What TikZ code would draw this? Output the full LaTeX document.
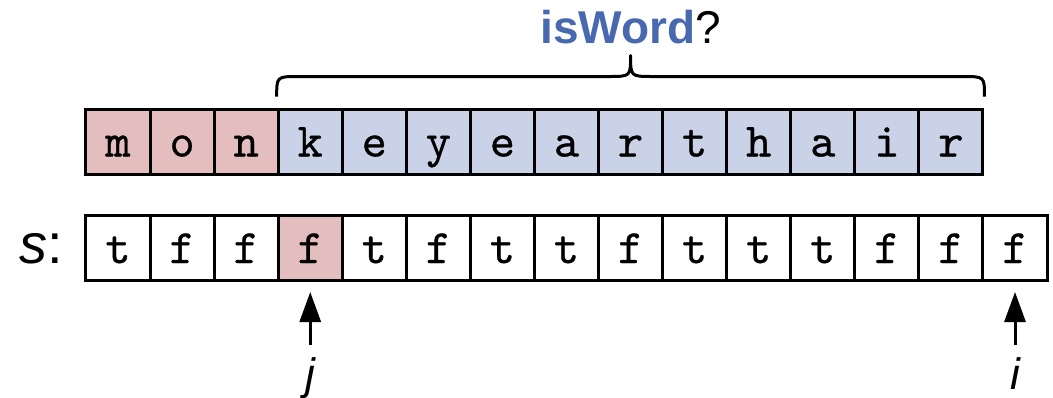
\documentclass[tikz,border=0pt]{standalone}
\usepackage{fontspec}
\setmainfont{Liberation Sans}
\newfontfamily\cellfont{lmmono10-regular.otf}[FakeBold=0.6]
\usetikzlibrary{arrows.meta,calc}
\definecolor{cellred}{RGB}{228,189,191}
\definecolor{cellblue}{RGB}{201,210,230}
\definecolor{wordblue}{RGB}{72,104,176}
\begin{document}
\begin{tikzpicture}[x=1pt,y=-1pt,
  cell/.style={draw, line width=3pt, minimum width=64.07pt, minimum height=65pt,
    inner sep=0pt, font=\cellfont\fontsize{48}{48}\selectfont,
    text height=30pt, text depth=0pt},
  lab/.style={inner sep=0pt, font=\fontsize{44}{44}\selectfont\itshape},
  ptr/.style={line width=3pt, -{Triangle[length=30pt,width=21pt]}},
  bracestyle/.style={line width=3pt, line join=round}]
\useasboundingbox (0,0) rectangle (1053,397);
% top row
\foreach \c [count=\k from 0] in {m,o,n,k,e,y,e,a,r,t,h,a,i,r}{
  \ifnum\k<3 \def\fc{cellred}\else\def\fc{cellblue}\fi
  \node[cell, fill=\fc] (t\k) at ({118.03+64.07*\k},141.5) {\c};
}
% bottom row
\foreach \c [count=\k from 0] in {t,f,f,f,t,f,t,t,f,t,t,t,f,f,f}{
  \ifnum\k=3 \def\fc{cellred}\else\def\fc{white}\fi
  \node[cell, fill=\fc] (b\k) at ({118.03+64.07*\k},248) {\c};
}
% s label
\node[anchor=base east, inner sep=0pt, font=\fontsize{56}{56}\selectfont] (sl) at (63,263) {\textit{s}:};
% brace
\coordinate (bl) at ($(t3.north west)+(0,-11)$);
\coordinate (br) at ($(t13.north east)+(0,-11)$);
\coordinate (bt) at ($(bl)!0.5!(br)+(0,-41)$);
\draw[bracestyle] (bl) .. controls ($(bl)+(0,-20)$) .. ($(bl)+(22,-20)$)
  -- ($(bt)+(-22,21)$) .. controls ($(bt)+(0,21)$) .. (bt)
  .. controls ($(bt)+(0,21)$) .. ($(bt)+(22,21)$)
  -- ($(br)+(-22,-20)$) .. controls ($(br)+(0,-20)$) .. (br);
\node[anchor=base, inner sep=0pt, font=\fontsize{46}{46}\selectfont] (iw) at ($(bt)+(0,-12)$)
  {\textcolor{wordblue}{\textbf{isWord}}?};
% pointers
\node[lab, anchor=base] (jl) at ($(b3.south)+(0,107)$) {j};
\node[lab, anchor=base] (il) at ($(b14.south)+(0,107)$) {i};
\draw[ptr] ($(jl.north)+(0,-12)$) -- ([yshift=-10pt]b3.south);
\draw[ptr] ($(b14.south)+(0,63)$) -- ([yshift=-10pt]b14.south);
\end{tikzpicture}
\end{document}
